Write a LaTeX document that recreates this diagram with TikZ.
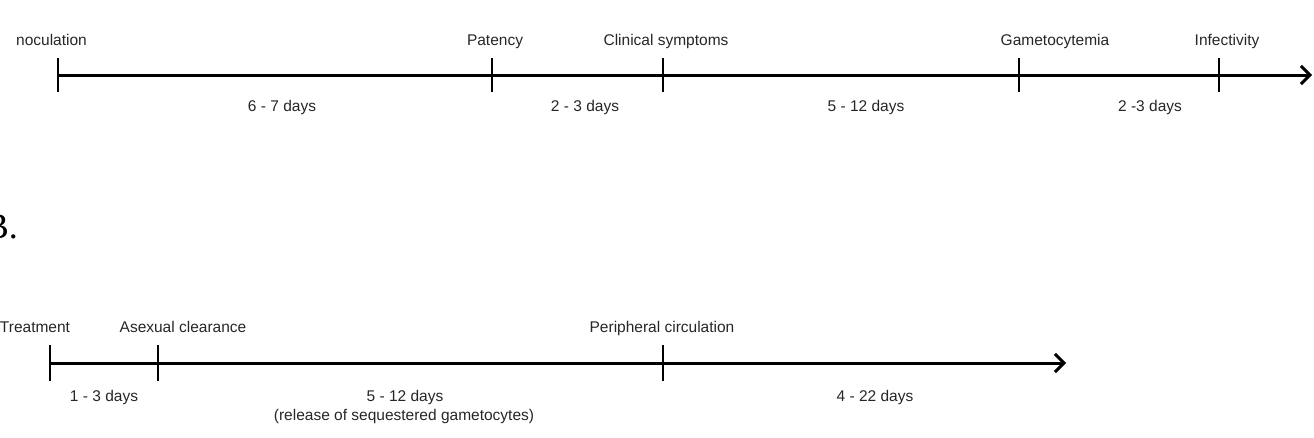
\documentclass[tikz,border=0pt]{standalone}
\usepackage{fontspec}
\setmainfont{Liberation Sans}
\newfontfamily\panelfont{Liberation Serif}
\usetikzlibrary{arrows.meta}
\colorlet{labelcolor}{black!85}
\tikzstyle{axishead}=[>/.tip={Straight Barb[length=9pt,width=18pt,line width=3pt]}]
\tikzstyle{axis}=[line width=3pt,axishead,->]
\tikzstyle{tick}=[line width=1.7pt]
\tikzstyle{lbl}=[inner sep=0pt,anchor=base,text=labelcolor,font=\fontsize{15.5}{18}\selectfont]
\tikzstyle{panel}=[inner sep=0pt,anchor=base east,font=\panelfont\fontsize{36}{40}\selectfont]

\begin{document}
\begin{tikzpicture}[x=1pt,y=-1pt]
	\useasboundingbox (0,0) rectangle (1314,437);
	\coordinate (inoc) at (58,75);
	\coordinate (pat)  at (492,75);
	\coordinate (clin) at (663,75);
	\coordinate (game) at (1019,75);
	\coordinate (inf)  at (1219,75);
	\coordinate (endA) at (1312,75);
	\draw[axis] (inoc) -- (endA);
	\foreach \t in {inoc,pat,clin,game,inf}
	  \draw[tick] ([yshift=-17pt]\t) -- ([yshift=17pt]\t);
	\node[lbl,anchor=base west] (inocl) at (16,45) {noculation};
	\node[lbl] (patl)  at (495,45)  {Patency};
	\node[lbl] (clinl) at (666,45)  {Clinical symptoms};
	\node[lbl] (gamel) at (1055,45) {Gametocytemia};
	\node[lbl] (infl)  at (1227,45) {Infectivity};
	\node[lbl] (dA1) at (282,111)  {6 - 7 days};
	\node[lbl] (dA2) at (585,111)  {2 - 3 days};
	\node[lbl] (dA3) at (866,111)  {5 - 12 days};
	\node[lbl] (dA4) at (1150,111) {2 -3 days};

	\node[panel] (panelB) at (18,238) {B.};

	\coordinate (treat) at (50,363);
	\coordinate (asex)  at (158,363);
	\coordinate (peri)  at (663,363);
	\coordinate (endB)  at (1066,363);
	\draw[axis] (treat) -- (endB);
	\foreach \t in {treat,asex,peri}
	  \draw[tick] ([yshift=-18pt]\t) -- ([yshift=18pt]\t);
	\node[lbl] (treatl) at (35,332)  {Treatment};
	\node[lbl] (asexl)  at (183,332) {Asexual clearance};
	\node[lbl] (peril)  at (662,332) {Peripheral circulation};
	\node[lbl] (dB1) at (104,401) {1 - 3 days};
	\node[lbl] (dB2) at (405,401) {5 - 12 days};
	\node[lbl] (dB2b) at (404,420) {(release of sequestered gametocytes)};
	\node[lbl] (dB3) at (875,401) {4 - 22 days};
\end{tikzpicture}
\end{document}
